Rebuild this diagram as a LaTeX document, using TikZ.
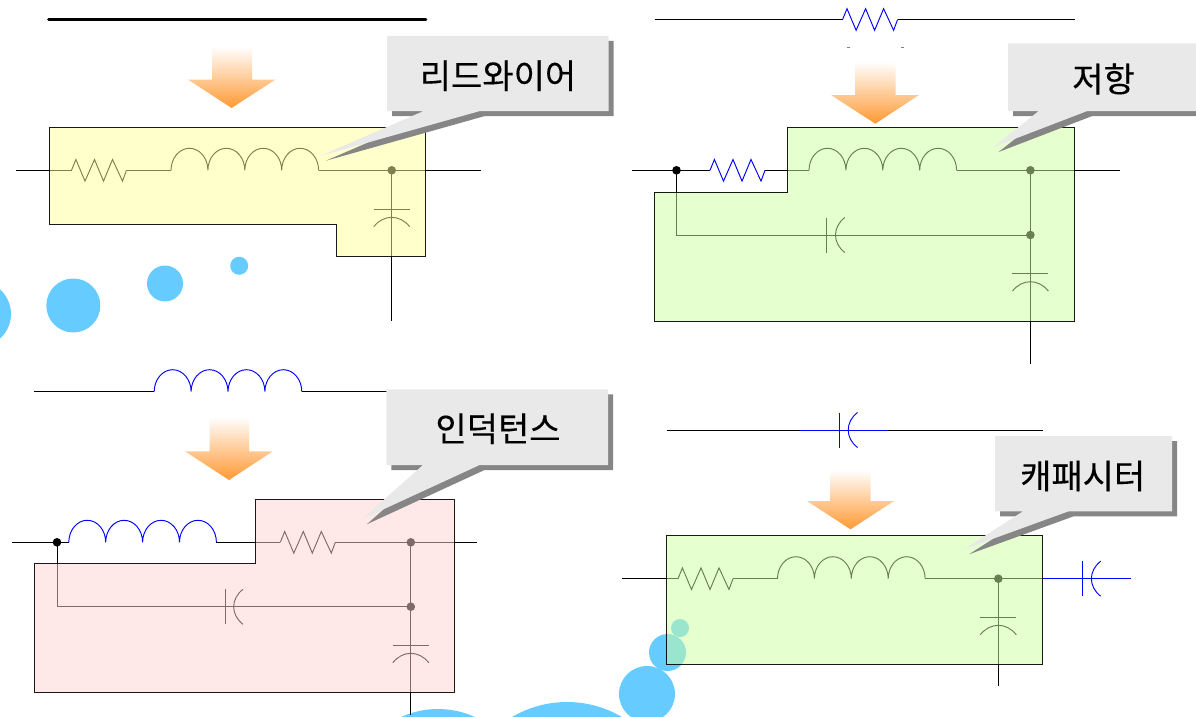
\documentclass[tikz,border=0pt]{standalone}
\usepackage{fontspec}
\setmainfont[FakeBold=0.25]{Noto Sans CJK KR}
\definecolor{bub}{HTML}{66CCFF}
\definecolor{calloutbg}{HTML}{E9E9E9}
\definecolor{calloutsh}{HTML}{868686}
\definecolor{arrowor}{HTML}{FF9933}
\definecolor{pyel}{HTML}{FFFF99}
\definecolor{pgrn}{HTML}{CEFF9E}
\definecolor{ppnk}{HTML}{FFD2CF}
\tikzset{
  wire/.style={line width=0.95pt,line join=miter,black},
  bluewire/.style={wire,draw=blue},
  jdot/.style={circle,fill=black,inner sep=0pt,minimum size=8.6pt},
  bubble/.style={fill=bub,draw=none},
  panel/.style={fill opacity=0.5,draw opacity=0.9,draw=black,line width=0.95pt},
  ctext/.style={font=\fontsize{34}{34}\selectfont,text=black,inner sep=0pt},
}
% resistor: left end x, wire y, style
\newcommand{\resis}[3]{\draw[#3] (#1,#2) -- ++(4.4,-10.8) -- ++(9.1,21.6) -- ++(9.5,-21.6) -- ++(9,21.6) -- ++(9,-21.6) -- ++(10,21.6) -- ++(4,-10.8);}
% inductor: left end x, wire y, style; four arches
\newcommand{\induc}[3]{\draw[#3] (#1,#2)
  arc[start angle=180,end angle=360,x radius=18.45,y radius=22]
  arc[start angle=180,end angle=360,x radius=18.45,y radius=22]
  arc[start angle=180,end angle=360,x radius=18.45,y radius=22]
  arc[start angle=180,end angle=360,x radius=18.45,y radius=22];}
% vertical capacitor: x, plate y, style
\newcommand{\capV}[3]{\draw[#3] (#1-18,#2) -- (#1+18,#2);
  \draw[#3] (#1-18,#2+17.4) .. controls (#1-8,#2+4.9) and (#1+8,#2+4.9) .. (#1+18,#2+17.4);}
% horizontal capacitor: plate x, y centre, style
\newcommand{\capH}[3]{\draw[#3] (#1,#2-17.5) -- (#1,#2+17.5);
  \draw[#3] (#1+18,#2-17.5) .. controls (#1+5.6,#2-8) and (#1+5.6,#2+8) .. (#1+18,#2+17.5);}
% block arrow: shaft left, shaft right, head left, head right, tip x, top y, base y, tip y
\newcommand{\bigarrow}[8]{\shade[top color=white,bottom color=arrowor,shading angle=0]
  (#1,#6) -- (#2,#6) -- (#2,#7) -- (#4,#7) -- (#5,#8) -- (#3,#7) -- (#1,#7) -- cycle;}
% callout: x1,y1,x2,y2, tail A x, tip x, tip y, tail B x
\newcommand{\callout}[8]{
  \fill[calloutsh,shift={(5,5)}] (#1,#2) -- (#3,#2) -- (#3,#4) -- (#8,#4) -- (#6,#7) -- (#5,#4) -- (#1,#4) -- cycle;
  \fill[calloutbg] (#1,#2) -- (#3,#2) -- (#3,#4) -- (#8,#4) -- (#6,#7) -- (#5,#4) -- (#1,#4) -- cycle;}
\begin{document}
\begin{tikzpicture}[x=1pt,y=-1pt]
\useasboundingbox (0,0) rectangle (1196,717);
\begin{scope}
\clip (0,0) rectangle (1196,717);
% bubbles
\fill[bubble] (-22,314) circle[radius=33];
\fill[bubble] (73.3,305.5) circle[radius=27];
\fill[bubble] (165,283.5) circle[radius=18];
\fill[bubble] (239.2,265.8) circle[radius=9];
\fill[bubble] (438,798) circle[radius=89];
\fill[bubble] (567,810) circle[radius=108];
\fill[bubble] (647,694) circle[radius=28];
\fill[bubble] (667.5,652.5) circle[radius=18.5];
\fill[bubble] (680,628) circle[radius=9];

% ---------- panel 1: lead wire
\coordinate (a1) at (48.5,19.5); \coordinate (a2) at (426,19.5);
\draw[line width=2.8pt,line cap=round] (a1) -- (a2);
\bigarrow{212}{252}{188}{275.5}{231.6}{47}{79.5}{108}
\coordinate (p1l) at (16,170.3); \coordinate (p1r) at (480.6,170.3);
\coordinate (p1b) at (391.7,321);
\draw[wire] (p1l) -- (71.5,170.3); \resis{71.5}{170.3}{wire}
\draw[wire] (126.5,170.3) -- (171,170.3); \induc{171}{170.3}{wire}
\draw[wire] (318.6,170.3) -- (p1r);
\node[jdot] (p1d) at (391.7,170.3) {};
\draw[wire] (p1d.center) -- (p1b);
\capV{391.7}{209.3}{wire}
\fill[pyel,panel] (49.3,127.3) -- (425,127.3) -- (425,256.3) -- (336.8,256.3) -- (336.8,224.3) -- (49.3,224.3) -- cycle;
\callout{387}{36}{608.7}{111}{423.7}{321}{155.7}{480}
\node[ctext] (t1) at (498,75.7) {리드와이어};

% ---------- panel 2: resistance
\coordinate (b1) at (654.5,19.5); \coordinate (b2) at (1075,19.5);
\draw[wire] (b1) -- (842.6,19.5); \resis{842.6}{19.5}{bluewire} \draw[wire] (897.6,19.5) -- (b2);
\draw[line width=0.5pt,gray] (846.5,47.3) -- (849.5,47.3) (900.5,47.3) -- (903.5,47.3);
\bigarrow{855}{895.5}{831}{919}{875.3}{62}{95}{123.7}
\coordinate (p2l) at (632,170.3); \coordinate (p2r) at (1119.6,170.3);
\coordinate (p2b) at (1030.4,364);
\node[jdot] (p2a) at (676.5,170.3) {};
\node[jdot] (p2d) at (1030.4,170.3) {};
\node[jdot] (p2e) at (1030.4,235) {};
\draw[wire] (p2l) -- (710,170.3); \resis{710}{170.3}{bluewire}
\draw[wire] (765,170.3) -- (809,170.3); \induc{809}{170.3}{wire}
\draw[wire] (956.6,170.3) -- (p2r);
\draw[wire] (p2a.center) |- (p2e.center);
\draw[wire] (p2d.center) -- (p2b);
\capH{826.8}{235}{wire}
\capV{1030.4}{273.7}{wire}
\fill[pgrn,panel] (654.5,192) -- (787.5,192) -- (787.5,127.3) -- (1074.8,127.3) -- (1074.8,321) -- (654.5,321) -- cycle;
\callout{1008}{43.3}{1196}{111}{1038.8}{993.6}{147}{1087.3}
\node[ctext] (t2) at (1103.5,79) {저항};

% ---------- panel 3: inductance
\coordinate (c1) at (34.4,391.7); \coordinate (c2) at (390,391.7);
\draw[wire] (c1) -- (154.2,391.7); \induc{154.2}{391.7}{bluewire} \draw[wire] (301.8,391.7) -- (c2);
\bigarrow{209.6}{249}{185}{272.8}{229}{417}{451.3}{480}
\coordinate (p3l) at (12.3,542.3); \coordinate (p3r) at (477.3,542.3);
\coordinate (p3b) at (410.8,714.5);
\node[jdot] (p3a) at (57,542.3) {};
\node[jdot] (p3d) at (410.8,542.3) {};
\node[jdot] (p3e) at (410.8,606.7) {};
\draw[wire] (p3l) -- (68.8,542.3); \induc{68.8}{542.3}{bluewire}
\draw[wire] (216.4,542.3) -- (280.3,542.3); \resis{280.3}{542.3}{wire}
\draw[wire] (335.3,542.3) -- (p3r);
\draw[wire] (p3a.center) |- (p3e.center);
\draw[wire] (p3d.center) -- (p3b);
\capH{225}{606.8}{wire}
\capV{410.8}{645.3}{wire}
\fill[ppnk,panel] (34.8,563.7) -- (255.8,563.7) -- (255.8,499.3) -- (454.7,499.3) -- (454.7,692.7) -- (34.8,692.7) -- cycle;
\callout{386.3}{389.3}{608}{465}{423}{361.8}{519.3}{479.6}
\node[ctext] (t3) at (498,428.7) {인덕턴스};

% ---------- panel 4: capacitor
\coordinate (d1) at (666.5,430.3); \coordinate (d2) at (1042.8,430.3);
\draw[wire] (d1) -- (800.3,430.3); \draw[bluewire] (800.3,430.3) -- (887.7,430.3); \draw[wire] (887.7,430.3) -- (d2);
\capH{839.5}{430}{bluewire}
\bigarrow{830}{870.6}{807}{894}{850.5}{470}{501}{529.3}
\coordinate (p4l) at (622.4,578.7); \coordinate (p4m) at (1043,578.7); \coordinate (p4r) at (1131.4,578.7);
\coordinate (p4b) at (998.3,686.3);
\node[jdot] (p4d) at (998.3,578.7) {};
\draw[wire] (p4l) -- (678,578.7); \resis{678}{578.7}{wire}
\draw[wire] (733,578.7) -- (777.5,578.7); \induc{777.5}{578.7}{wire}
\draw[wire] (925.1,578.7) -- (p4m);
\draw[bluewire] (p4m) -- (p4r);
\capH{1082.7}{578.7}{bluewire}
\draw[wire] (p4d.center) -- (p4b);
\capV{998.3}{617.3}{wire}
\fill[pgrn,panel] (666.5,535.7) rectangle (1042.8,664.7);
\callout{995}{436}{1172}{511.3}{1023}{964}{549.3}{1068.6}
\node[ctext] (t4) at (1082.7,476) {캐패시터};
\end{scope}
\end{tikzpicture}
\end{document}
